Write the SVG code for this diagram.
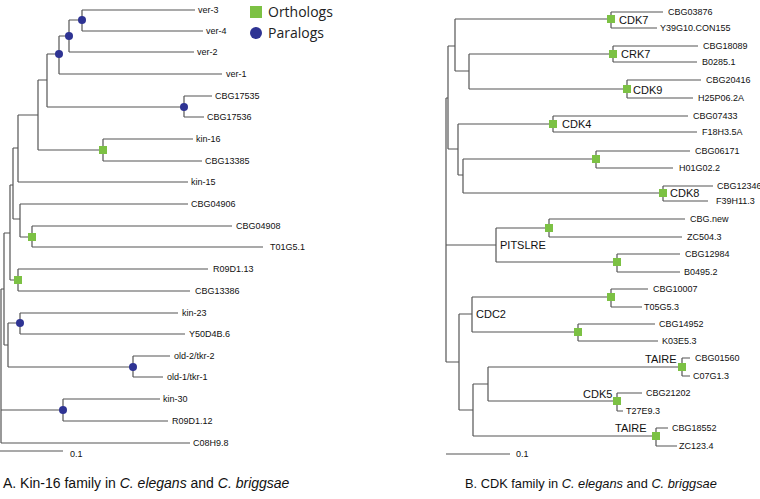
<svg xmlns="http://www.w3.org/2000/svg" width="760" height="499" viewBox="0 0 760 499">
<style>
.br{stroke:#555;stroke-width:1.2;fill:none}
.lf{font-family:"Liberation Sans",Arial,sans-serif;font-size:9px;fill:#111}
.cl{font-family:"Liberation Sans",Arial,sans-serif;font-size:11px;fill:#111}
.lg{font-family:"Open Sans","DejaVu Sans",sans-serif;font-size:14px;fill:#222}
.cap{font-family:"Liberation Sans",Arial,sans-serif;fill:#111}
.o{fill:#7cc144}
.p{fill:#2e3393}
</style>
<rect width="760" height="499" fill="#fff"/>
<g id="legend">
<rect class="o" x="250" y="6" width="12" height="12"/>
<text class="lg" x="268" y="17">Orthologs</text>
<circle class="p" cx="256" cy="33" r="6"/>
<text class="lg" x="268" y="38">Paralogs</text>
</g>
<g id="connectors">
<path class="br" d="M82,10V31M82,10H195M82,31H203
M69,20V52M69,20H82M69,52H194
M59,36V74M59,36H69M59,74H222
M184,96V117M184,96H212M184,117H204
M47,54V107M47,54H59M47,107H184
M103,139V161M103,139H193M103,161H202
M38,80V150M38,80H47M38,150H103
M18,115V182M18,115H38M18,182H188
M32,226V247M32,226H232M32,247H263
M20,204V237M20,204H188M20,237H32
M13,148V219M13,148H18M13,219H20
M18,269V291M18,269H208M18,291H190
M10,185V280M10,185H13M10,280H18
M20,313V334M20,313H178M20,334H185
M133,356V377M133,356H170M133,377H163
M8,323V367M8,323H20M8,367H133
M4,233V345M4,233H10M4,345H8
M63,399V421M63,399H160M63,421H168
M1,289V443M1,289H4M1,410H63M1,443H190
M0,451H63"/>
<path class="br" d="M611,12V28M611,12H663M611,28H657
M455,19V71M455,19H611M455,71H469
M613,46V62M613,46H698M613,62H697
M469,54V89M469,54H613M469,89H627
M627,80V98M627,80H701M627,98H693
M448,46V149M448,46H455M448,149H458
M553,116V132M553,116H688M553,132H697
M458,124V175M458,124H553M458,175H463
M596,151V168M596,151H690M596,168H673
M463,159V193M463,159H596M463,193H663
M663,186V201M663,186H713M663,201H708
M446,98V362M446,98H448M446,245H496M446,362H459
M496,228V262M496,228H549M496,262H617
M549,219V237M549,219H685M549,237H682
M617,254V272M617,254H680M617,272H680
M459,314V410M459,314H472M459,410H473
M472,297V332M472,297H611M472,332H578
M611,289V307M611,289H648M611,307H642
M578,324V341M578,324H655M578,341H658
M473,384V436M473,384H488M473,436H656
M488,367V401M488,367H682M488,401H617
M682,358V376M682,358H690M682,376H690
M617,393V411M617,393H642M617,411H623
M656,428V446M656,428H668M656,446H677
M446,454H510"/>
</g>
<g id="markers-A">
<circle class="p" cx="82" cy="20" r="4"/>
<circle class="p" cx="69" cy="36" r="4"/>
<circle class="p" cx="59" cy="54" r="4"/>
<circle class="p" cx="184" cy="107" r="4"/>
<rect class="o" x="99" y="146" width="8" height="8"/>
<rect class="o" x="28" y="233" width="8" height="8"/>
<rect class="o" x="14" y="276" width="8" height="8"/>
<circle class="p" cx="20" cy="323" r="4"/>
<circle class="p" cx="133" cy="367" r="4"/>
<circle class="p" cx="63" cy="410" r="4"/>
</g>
<g id="markers-B">
<rect class="o" x="607" y="15" width="8" height="8"/>
<rect class="o" x="609" y="50" width="8" height="8"/>
<rect class="o" x="623" y="85" width="8" height="8"/>
<rect class="o" x="549" y="120" width="8" height="8"/>
<rect class="o" x="592" y="155" width="8" height="8"/>
<rect class="o" x="659" y="189" width="8" height="8"/>
<rect class="o" x="545" y="224" width="8" height="8"/>
<rect class="o" x="613" y="258" width="8" height="8"/>
<rect class="o" x="607" y="293" width="8" height="8"/>
<rect class="o" x="574" y="328" width="8" height="8"/>
<rect class="o" x="678" y="363" width="8" height="8"/>
<rect class="o" x="613" y="397" width="8" height="8"/>
<rect class="o" x="652" y="432" width="8" height="8"/>
</g>
<g id="leaves-A" class="lf">
<text x="198" y="13">ver-3</text>
<text x="206" y="34">ver-4</text>
<text x="197" y="55">ver-2</text>
<text x="226" y="77">ver-1</text>
<text x="215" y="99">CBG17535</text>
<text x="207" y="120">CBG17536</text>
<text x="196" y="142">kin-16</text>
<text x="205" y="164">CBG13385</text>
<text x="191" y="185">kin-15</text>
<text x="191" y="207">CBG04906</text>
<text x="236" y="229">CBG04908</text>
<text x="270" y="250">T01G5.1</text>
<text x="213" y="272">R09D1.13</text>
<text x="195" y="294">CBG13386</text>
<text x="182" y="316">kin-23</text>
<text x="189" y="337">Y50D4B.6</text>
<text x="174" y="359">old-2/tkr-2</text>
<text x="167" y="380">old-1/tkr-1</text>
<text x="163" y="402">kin-30</text>
<text x="172" y="424">R09D1.12</text>
<text x="193" y="446">C08H9.8</text>
<text x="70" y="457">0.1</text>
</g>
<g id="leaves-B" class="lf">
<text x="668" y="15">CBG03876</text>
<text x="660" y="31">Y39G10.CON155</text>
<text x="703" y="49">CBG18089</text>
<text x="702" y="65">B0285.1</text>
<text x="706" y="83">CBG20416</text>
<text x="698" y="101">H25P06.2A</text>
<text x="693" y="119">CBG07433</text>
<text x="702" y="135">F18H3.5A</text>
<text x="695" y="154">CBG06171</text>
<text x="679" y="171">H01G02.2</text>
<text x="717" y="189">CBG12346</text>
<text x="716" y="204">F39H11.3</text>
<text x="690" y="222">CBG.new</text>
<text x="687" y="240">ZC504.3</text>
<text x="685" y="257">CBG12984</text>
<text x="684" y="275">B0495.2</text>
<text x="653" y="292">CBG10007</text>
<text x="644" y="310">T05G5.3</text>
<text x="659" y="327">CBG14952</text>
<text x="662" y="344">K03E5.3</text>
<text x="695" y="361">CBG01560</text>
<text x="693" y="379">C07G1.3</text>
<text x="646" y="396">CBG21202</text>
<text x="626" y="414">T27E9.3</text>
<text x="672" y="431">CBG18552</text>
<text x="679" y="449">ZC123.4</text>
<text x="516" y="457">0.1</text>
</g>
<g id="clades-B" class="cl">
<text x="619" y="24">CDK7</text>
<text x="621" y="58">CRK7</text>
<text x="633" y="94">CDK9</text>
<text x="562" y="128">CDK4</text>
<text x="670" y="197">CDK8</text>
<text x="500" y="249">PITSLRE</text>
<text x="476" y="318">CDC2</text>
<text x="645" y="363">TAIRE</text>
<text x="583" y="398">CDK5</text>
<text x="615" y="432">TAIRE</text>
</g>
<g id="captions" class="cap">
<text x="3" y="488" font-size="14">A. Kin-16 family in <tspan font-style="italic">C. elegans</tspan> and <tspan font-style="italic">C. briggsae</tspan></text>
<text x="465" y="488" font-size="12.8">B. CDK family in <tspan font-style="italic">C. elegans</tspan> and <tspan font-style="italic">C. briggsae</tspan></text>
</g>
</svg>
